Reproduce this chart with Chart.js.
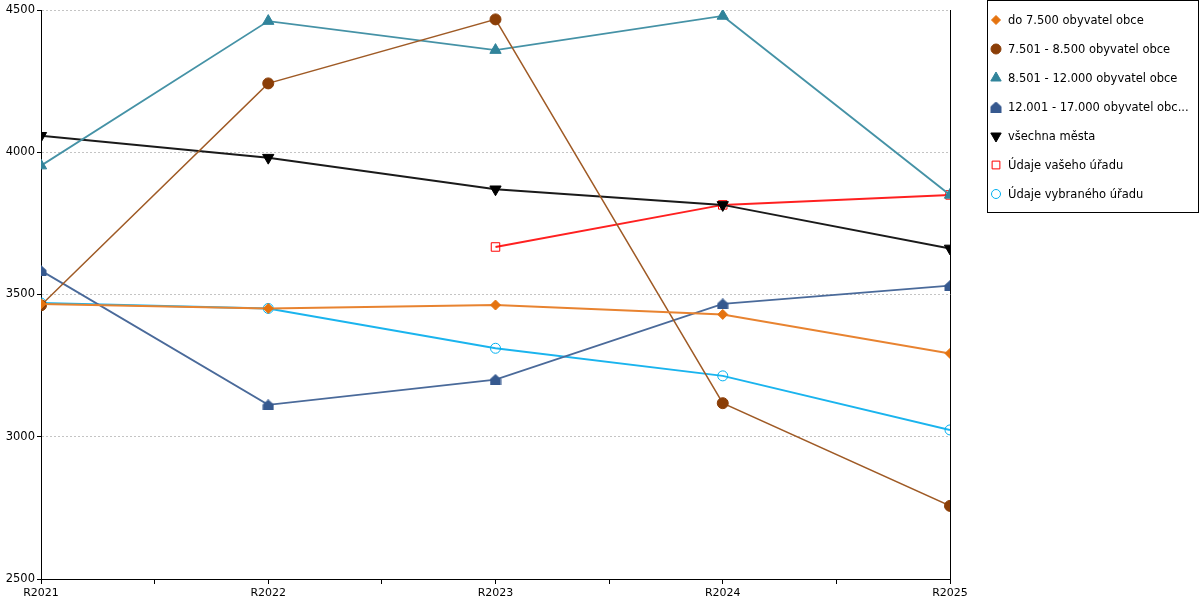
<!DOCTYPE html>
<html>
<head>
<meta charset="utf-8">
<script src="https://cdn.jsdelivr.net/npm/chart.js@4/dist/chart.umd.min.js"></script>
<style>
  html, body { margin: 0; padding: 0; background: #fff; }
  #wrap { position: relative; width: 1200px; height: 600px; }
  #legend {
    position: absolute; left: 987px; top: 0; width: 210px; height: 211px;
    border: 1px solid #000; background: #fff; box-sizing: content-box;
    font-family: 'DejaVu Sans', sans-serif; font-size: 11.5px; color: #000;
  }
  .legend-item { position: absolute; left: 0; height: 14px; display: flex; align-items: center; white-space: nowrap; }
  .legend-item canvas { width: 16px; height: 14px; margin-left: 0; margin-right: 4px; }
</style>
</head>
<body>
<div id="wrap">
  <canvas id="chart"></canvas>
  <div id="legend"></div>
</div>
<script>
const years = ['R2021', 'R2022', 'R2023', 'R2024', 'R2025'];
const seriesNames = [
  'do 7.500 obyvatel obce',
  '7.501 - 8.500 obyvatel obce',
  '8.501 - 12.000 obyvatel obce',
  '12.001 - 17.000 obyvatel obce',
  'všechna města',
  'Údaje vašeho úřadu',
  'Údaje vybraného úřadu',
];
const upTo7500 = [3467, 3451, 3463, 3430, 3293];
const from7501 = [3462, 4242, 4467, 3118, 2757];
const from8501 = [3953, 4461, 4359, 4479, 3850];
const from12001 = [3584, 3112, 3201, 3467, 3531];
const allTowns = [4058, 3981, 3870, 3815, 3662];
const yourOffice = [null, null, 3667, 3815, 3850];
const selectedOffice = [3470, 3451, 3311, 3214, 3024];
const yTicks = [2500, 3000, 3500, 4000, 4500];

// house-shaped marker for the 12.001 - 17.000 series
const makeHouse = (color) => {
  const c = document.createElement('canvas');
  c.width = 12; c.height = 11;
  const g = c.getContext('2d');
  g.fillStyle = color;
  g.beginPath();
  g.moveTo(0.5, 5); g.lineTo(6, 0); g.lineTo(11.5, 5); g.lineTo(11.5, 11); g.lineTo(0.5, 11);
  g.closePath(); g.fill();
  return c;
};
const house = makeHouse('#36598f');

const styles = [
  { data: upTo7500, color: '#e5730f', line: '#e88330', pointStyle: 'rectRot', radius: 5, rotation: 0, fill: true, width: 2 },
  { data: from7501, color: '#8b3e07', line: '#9f5a25', pointStyle: 'circle', radius: 5.5, rotation: 0, fill: true, width: 1.5 },
  { data: from8501, color: '#31849b', line: '#4592a6', pointStyle: 'triangle', radius: 6.5, rotation: 0, fill: true, width: 1.8 },
  { data: from12001, color: '#36598f', line: '#4a6a9a', pointStyle: house, radius: 6, rotation: 0, fill: true, width: 1.8 },
  { data: allTowns, color: '#000000', line: '#1a1a1a', pointStyle: 'triangle', radius: 6.5, rotation: 180, fill: true, width: 2 },
  { data: yourOffice, color: '#ff0000', line: '#ff2020', pointStyle: 'rect', radius: 6, rotation: 0, fill: false, width: 2 },
  { data: selectedOffice, color: '#00b0f0', line: '#1ab4ee', pointStyle: 'circle', radius: 5, rotation: 0, fill: false, width: 2 },
];

const datasets = styles.map((s, i) => ({
  label: seriesNames[i],
  data: s.data.map((v, idx) => ({ x: idx, y: v })),
  borderColor: s.line,
  borderWidth: s.width,
  pointStyle: s.pointStyle,
  pointRadius: s.radius,
  pointHoverRadius: s.radius,
  pointRotation: s.rotation,
  pointBackgroundColor: s.fill ? s.color : 'rgba(0,0,0,0)',
  pointBorderColor: s.color,
  pointBorderWidth: 1,
  tension: 0,
  spanGaps: false,
}));

const rightBorder = {
  id: 'rightBorder',
  afterDatasetsDraw(chart) {
    const { ctx, chartArea } = chart;
    ctx.save();
    ctx.strokeStyle = '#000';
    ctx.lineWidth = 1;
    ctx.beginPath();
    ctx.moveTo(Math.round(chartArea.right) + 0.5, chartArea.top);
    ctx.lineTo(Math.round(chartArea.right) + 0.5, chartArea.bottom);
    ctx.stroke();
    ctx.restore();
  },
};

const tickFont = { family: 'DejaVu Sans', size: 11 };

new Chart(document.getElementById('chart'), {
  type: 'line',
  data: { datasets },
  options: {
    responsive: true,
    maintainAspectRatio: false,
    animation: false,
    layout: { padding: { left: 0, right: 250, top: 10, bottom: 0 } },
    plugins: { legend: { display: false }, tooltip: { enabled: false } },
    scales: {
      x: {
        type: 'linear', min: 0, max: years.length - 1,
        afterFit: (scale) => { scale.height = 21; },
        ticks: {
          stepSize: 0.5, autoSkip: false, maxRotation: 0, color: '#000', font: tickFont, padding: 3,
          callback: (v) => (Number.isInteger(v) ? years[v] : ''),
        },
        grid: { drawOnChartArea: false, tickLength: 5, tickColor: '#000' },
        border: { color: '#000', width: 1 },
      },
      y: {
        min: yTicks[0], max: yTicks[yTicks.length - 1],
        afterFit: (scale) => { scale.width = 41; },
        afterBuildTicks: (scale) => { scale.ticks = yTicks.map((v) => ({ value: v })); },
        ticks: { color: '#000', font: { family: 'DejaVu Sans', size: 11.5 }, padding: 2, callback: (v) => String(v) },
        grid: { color: '#c4c4c4', tickColor: '#000', tickLength: 4, tickBorderDash: [] },
        border: { color: '#000', width: 1, dash: [2, 2] },
      },
    },
  },
  plugins: [rightBorder],
});

// html legend built from the same series definitions
const legendNode = document.getElementById('legend');
styles.forEach((s, i) => {
  const item = document.createElement('div');
  item.className = 'legend-item';
  item.style.top = `${12 + i * 29}px`;
  const mark = document.createElement('canvas');
  mark.width = 16; mark.height = 14;
  const g = mark.getContext('2d');
  g.fillStyle = s.fill ? s.color : 'rgba(0,0,0,0)';
  g.strokeStyle = s.color;
  g.lineWidth = 1;
  Chart.helpers.drawPoint(g, { pointStyle: s.pointStyle, rotation: s.rotation, radius: s.radius - 0.5, borderWidth: 1 }, 8, 7);
  const text = document.createElement('span');
  const name = seriesNames[i];
  text.textContent = name.length > 28 ? `${name.slice(0, 28)}...` : name;
  item.appendChild(mark);
  item.appendChild(text);
  legendNode.appendChild(item);
});
</script>
</body>
</html>
